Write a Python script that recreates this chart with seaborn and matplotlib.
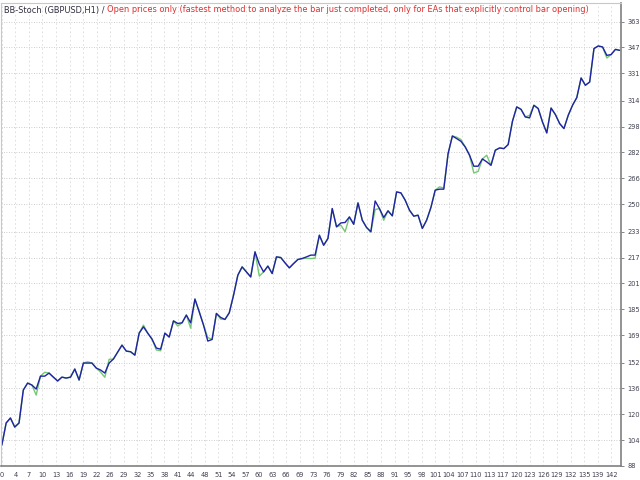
import matplotlib
matplotlib.use("Agg")
import matplotlib.pyplot as plt
import seaborn as sns
import pandas as pd
import numpy as np

# ---- data ----
balance = [101.0,114.6,117.7,112.1,114.6,135.0,139.3,138.1,135.6,143.6,
           143.6,145.5,143.0,140.6,143.0,142.4,143.0,148.0,141.2,151.7,
           151.7,151.7,148.6,147.4,145.5,151.7,154.2,158.5,162.8,159.1,
           158.7,156.6,170.2,174.1,170.2,166.5,161.0,160.3,170.2,167.8,
           177.8,176.2,176.6,181.4,176.6,191.3,183.4,175.2,165.3,166.3,
           182.4,179.9,178.7,182.8,193.7,206.1,211.2,208.1,205.0,220.5,
           212.9,208.1,211.7,207.1,217.4,217.0,213.7,210.6,213.3,215.8,
           216.4,217.4,218.5,218.5,230.8,224.6,228.8,247.3,236.0,238.4,
           238.7,242.1,237.6,250.8,240.1,235.6,232.9,252.0,247.3,241.8,
           245.9,242.8,257.6,257.0,252.5,246.3,242.6,243.2,235.0,240.1,
           248.0,258.7,259.3,259.3,281.3,292.2,290.6,288.9,285.4,280.3,
           273.5,273.5,278.0,276.2,274.1,283.4,284.8,284.4,286.9,301.3,
           310.2,308.7,304.0,303.4,311.2,309.2,300.9,294.1,309.5,305.5,
           299.9,296.8,305.0,311.2,316.0,328.1,323.6,325.6,346.3,347.9,
           347.3,342.1,342.6,345.8,345.2]

equity = [101.0,114.6,117.7,112.1,114.6,135.0,139.3,138.1,131.9,143.6,
          146.0,145.5,143.0,140.6,143.0,142.4,143.0,148.0,141.2,151.7,
          152.5,151.7,148.6,146.1,142.9,154.0,154.2,158.5,162.8,159.1,
          158.7,156.6,170.2,175.2,170.2,166.5,159.8,159.3,170.2,167.8,
          177.8,174.6,176.6,181.4,173.3,191.3,183.4,175.2,167.5,166.3,
          182.4,178.9,178.7,182.8,193.7,206.1,211.2,208.1,205.0,220.5,
          205.5,208.1,211.7,207.1,217.4,217.0,213.7,210.6,213.3,215.8,
          216.4,216.5,216.4,216.5,230.8,224.6,228.8,247.3,236.0,237.0,
          233.0,242.1,237.6,250.8,240.1,235.6,232.9,246.7,247.3,240.1,
          245.9,242.8,257.6,257.0,252.5,246.3,242.6,243.2,235.0,240.1,
          248.0,258.7,260.7,260.0,281.3,292.2,291.5,290.0,285.4,280.3,
          269.3,270.3,278.0,280.3,274.1,283.4,284.8,284.4,286.9,301.3,
          310.2,308.7,304.0,305.0,311.2,309.2,300.9,294.1,309.5,305.5,
          299.9,296.8,305.0,311.2,316.0,328.1,323.6,325.6,346.3,347.9,
          347.3,340.5,342.6,345.8,345.2]

trades = list(range(len(balance)))

x_ticks = [0, 4, 7, 10, 13, 16, 19, 22, 26, 29, 32, 35, 38, 41, 44, 48, 51, 54,
           57, 60, 63, 66, 69, 73, 76, 79, 82, 85, 88, 91, 95, 98, 101, 104, 107,
           110, 113, 117, 120, 123, 126, 129, 132, 135, 139, 142]
y_ticks = [88, 104, 120, 136, 152, 169, 185, 201, 217, 233, 250, 266, 282, 298,
           314, 331, 347, 363]

title_main = "BB-Stoch (GBPUSD,H1) / "
title_mode = ("Open prices only (fastest method to analyze the bar just completed, "
              "only for EAs that explicitly control bar opening)")

df = pd.DataFrame({"trade": trades, "balance": balance, "equity": equity})

# ---- figure ----
sns.set_style("white")
plt.rcParams["font.family"] = ["DejaVu Sans"]
narrow = ["Liberation Sans Narrow", "DejaVu Sans Condensed", "DejaVu Sans"]

fig = plt.figure(figsize=(6.4, 4.8), dpi=100)
ax = fig.add_axes([1 / 640, 14 / 480, 620 / 640, 463 / 480])

sns.lineplot(data=df, x="trade", y="equity", color="#74c874", lw=1.0, ax=ax)
sns.lineplot(data=df, x="trade", y="balance", color="#2222a4", lw=1.0, ax=ax)

ax.set_xlim(-0.2, 144.3)
ax.set_ylim(88, 374.5)
ax.set_xlabel("")
ax.set_ylabel("")

# x ticks are evenly spaced in the reference (labels are rounded trade numbers)
x_tick_pos = np.linspace(x_ticks[0], x_ticks[-1], len(x_ticks))

ax.yaxis.tick_right()
ax.set_yticks(y_ticks)
ax.set_yticklabels([str(v) for v in y_ticks], family=narrow, fontsize=4.8)
ax.set_xticks(x_tick_pos)
ax.set_xticklabels([str(v) for v in x_ticks], family=narrow, fontsize=4.8)
ax.tick_params(axis="both", colors="#707080", length=2.5, width=0.6, pad=2,
               labelcolor="#404050")

ax.grid(axis="y", linestyle=(0, (1, 2)), color="#bcbcbc", lw=0.6)
ax.grid(axis="x", linestyle=(0, (2, 3)), color="#dadada", lw=0.6)
ax.set_axisbelow(True)

for side in ["top", "left"]:
    ax.spines[side].set_color("#c8c8c8")
    ax.spines[side].set_linewidth(0.8)
for side in ["bottom", "right"]:
    ax.spines[side].set_color("#808080")
    ax.spines[side].set_linewidth(1.2)

t1 = fig.text(4 / 640, 1 - 10 / 480, title_main, fontsize=5.95, color="#303040",
              va="center", ha="left")
ax.annotate(title_mode, xy=(1, 0.5), xycoords=t1, va="center", ha="left",
            fontsize=5.95, color="#e03030", annotation_clip=False)

fig.savefig("out.png", dpi=100)
